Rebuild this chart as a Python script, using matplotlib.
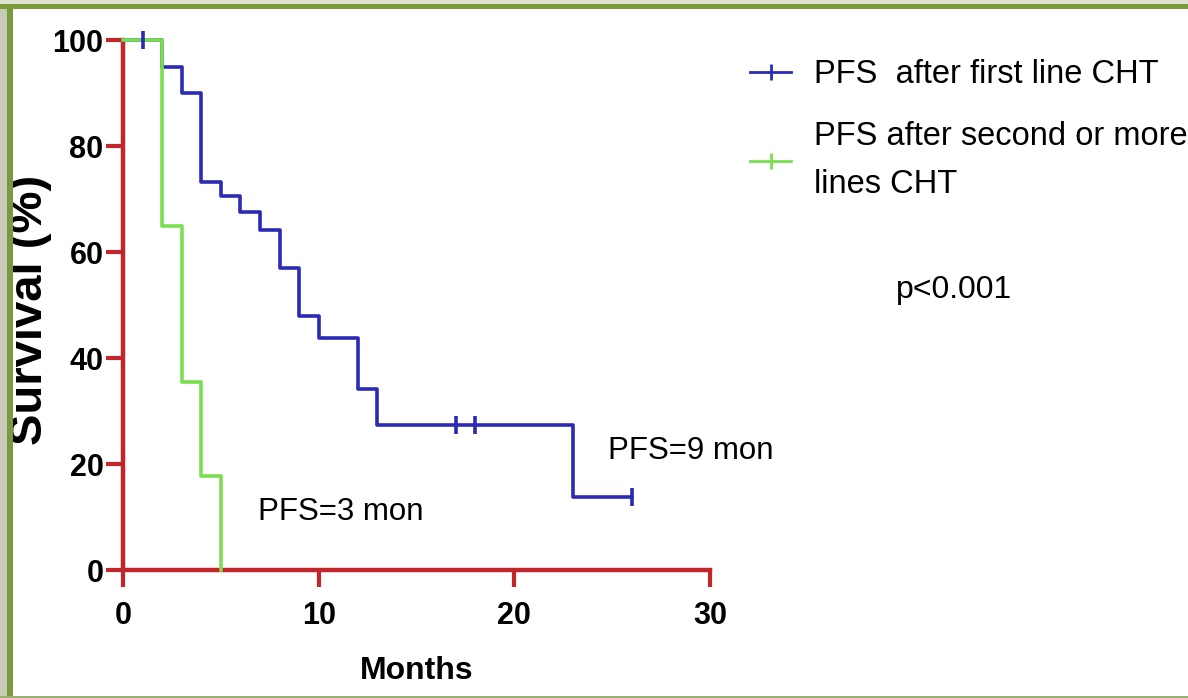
import numpy as np
import matplotlib
matplotlib.use('Agg')
import matplotlib.pyplot as plt
from matplotlib.patches import Rectangle

# ---- data ----
months_first = [0, 2, 3, 4, 5, 6, 7, 8, 9, 10, 12, 13, 23, 26]
surv_first = [100, 95, 90, 73.3, 70.5, 67.5, 64.2, 57, 48, 43.8, 34.2, 27.3, 13.7, 13.7]
cens_first_t = [1, 17, 18, 26]
cens_first_s = [100, 27.3, 27.3, 13.7]

months_second = [0, 2, 3, 4, 5]
surv_second = [100, 65, 35.5, 17.7, 0]

label_first = 'PFS  after first line CHT'
label_second = 'PFS after second or more\nlines CHT'
x_ticks = [0, 10, 20, 30]
y_ticks = [0, 20, 40, 60, 80, 100]

plt.rcParams['font.family'] = ['Liberation Sans', 'DejaVu Sans']

blue = '#2a2ab4'
green = '#7ade50'
red = '#c0262a'

fig = plt.figure(figsize=(11.88, 6.98), dpi=100)
fig.patch.set_facecolor('white')

W, H = 1188.0, 698.0
ax = fig.add_axes([123 / W, 1 - 570 / H, 587 / W, 530 / H])

ax.step(months_first, surv_first, where='post', color=blue, lw=2.6, clip_on=False, zorder=3)
ax.step(months_second, surv_second, where='post', color=green, lw=2.6, clip_on=False, zorder=4)
ax.plot(cens_first_t, cens_first_s, ls='none', marker='|', ms=13, mew=2.6, color=blue,
        clip_on=False, zorder=5)

ax.set_xlim(0, 30)
ax.set_ylim(0, 100)
for s in ['top', 'right']:
    ax.spines[s].set_visible(False)
for s in ['left', 'bottom']:
    ax.spines[s].set_color(red)
    ax.spines[s].set_linewidth(3.2)
    ax.spines[s].set_zorder(2)
ax.set_xticks(x_ticks)
ax.set_yticks(y_ticks)
ax.tick_params(colors=red, width=3, length=12, labelcolor='black')
ax.tick_params(axis='x', pad=10)
ax.tick_params(axis='y', pad=2)
for lab in ax.get_xticklabels() + ax.get_yticklabels():
    lab.set_fontweight('bold')
    lab.set_fontsize(22)

ax.set_xlabel('Months', fontsize=23, fontweight='bold', labelpad=18)
ax.set_ylabel('Survival (%)', fontsize=34, fontweight='bold')
ax.yaxis.set_label_coords(-0.121, 0.49)

# legend built from the curves
h1, = ax.plot([], [], color=blue, lw=2, marker='|', ms=12, mew=2)
h2, = ax.plot([], [], color=green, lw=2, marker='|', ms=12, mew=2)
leg = fig.legend([h1, h2], [label_first, label_second], loc='upper left',
                 bbox_to_anchor=(734 / W, 1 - 43 / H), frameon=False,
                 prop={'size': 23.5}, handlelength=1.25,
                 handletextpad=0.7, labelspacing=0.95, borderpad=0)
for t in leg.get_texts():
    t.set_linespacing(1.7)

ax.text(6.9, 10.9, 'PFS=3 mon', fontsize=22.5, va='center', ha='left')
ax.text(24.8, 22.5, 'PFS=9 mon', fontsize=22.5, va='center', ha='left')
ax.text(39.5, 52.8, 'p<0.001', fontsize=23, va='center', ha='left')

# frame around the picture
fig.add_artist(Rectangle((0, 0), 7 / W, 1, transform=fig.transFigure, color='#c6cab6', lw=0))
fig.add_artist(Rectangle((7 / W, 0), 5.5 / W, 1, transform=fig.transFigure, color='#7b9a3c', lw=0))
fig.add_artist(Rectangle((0, 1 - 4 / H), 1, 4 / H, transform=fig.transFigure, color='#dfe3d0', lw=0))
fig.add_artist(Rectangle((0, 1 - 9 / H), 1, 5 / H, transform=fig.transFigure, color='#7b9a3c', lw=0))
fig.add_artist(Rectangle((0, 0), 1, 2 / H, transform=fig.transFigure, color='#9ab070', lw=0))

fig.savefig('out.png', dpi=100)
